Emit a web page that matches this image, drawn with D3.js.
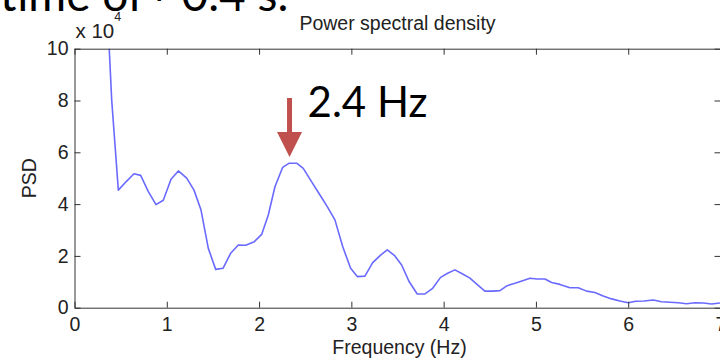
<!DOCTYPE html>
<html>
<head>
<meta charset="utf-8">
<script src="https://cdn.jsdelivr.net/npm/d3@7"></script>
<style>
  body { margin: 0; background: #fff; }
  svg { display: block; }
  .axis text { font-family: "Liberation Sans", Arial, sans-serif; font-size: 19.5px; fill: #222; }
  .axis path, .axis line { stroke: #333; }
</style>
</head>
<body>
<script>
// frequency (Hz) and PSD (x 10^4)
const freq = [0.32, 0.403, 0.475, 0.558, 0.645, 0.717, 0.80, 0.883, 0.962, 1.046, 1.125, 1.216, 1.295,
  1.371, 1.45, 1.53, 1.609, 1.692, 1.775, 1.855, 1.948, 2.028, 2.10, 2.172, 2.256, 2.327, 2.407,
  2.479, 2.57, 2.66, 2.739, 2.822, 2.906, 2.992, 3.064, 3.147, 3.231, 3.317, 3.389, 3.472, 3.545,
  3.627, 3.714, 3.797, 3.881, 3.967, 4.043, 4.122, 4.206, 4.285, 4.368, 4.447, 4.531, 4.61, 4.689,
  4.773, 4.856, 4.935, 5.014, 5.098, 5.17, 5.26, 5.368, 5.458, 5.549, 5.639, 5.729, 5.82, 5.91,
  6.0, 6.083, 6.173, 6.271, 6.362, 6.452, 6.542, 6.633, 6.723, 6.813, 6.904, 6.994];
const psd = [14.2, 8.02, 4.54, 4.86, 5.17, 5.11, 4.48, 3.98, 4.15, 4.96, 5.28, 5.00, 4.54,
  3.77, 2.29, 1.48, 1.52, 2.10, 2.42, 2.41, 2.55, 2.83, 3.58, 4.67, 5.42, 5.58, 5.58,
  5.38, 4.86, 4.35, 3.90, 3.39, 2.36, 1.52, 1.20, 1.22, 1.74, 2.03, 2.23, 2.00, 1.65,
  1.00, 0.53, 0.53, 0.75, 1.17, 1.33, 1.46, 1.30, 1.14, 0.88, 0.64, 0.64, 0.66, 0.85,
  0.94, 1.04, 1.14, 1.11, 1.11, 0.97, 0.90, 0.77, 0.77, 0.64, 0.59, 0.45, 0.34, 0.26,
  0.19, 0.25, 0.26, 0.30, 0.23, 0.21, 0.19, 0.15, 0.19, 0.18, 0.14, 0.18];
const xTicks = [0, 1, 2, 3, 4, 5, 6, 7];
const yTicks = [0, 2, 4, 6, 8, 10];
const peakFreq = 2.33;
const peakLabel = "2.4 Hz";

const width = 720, height = 361;
const margin = { top: 48.7, right: -0.5, bottom: 53.3, left: 74.5 };
const w = width - margin.left - margin.right;
const h = height - margin.top - margin.bottom;

const x = d3.scaleLinear().domain([0, 7]).range([0, w]);
const y = d3.scaleLinear().domain([0, 10]).range([h, 0]);

const svg = d3.select(document.body).append('svg')
  .attr('width', width)
  .attr('height', height);

// slide text cut off at the top
svg.append('text')
  .attr('x', 0).attr('y', 11)
  .attr('font-family', 'Lato, sans-serif')
  .attr('font-size', 46)
  .attr('fill', '#000')
  .text('time of ~0.4 s.');

const g = svg.append('g')
  .attr('transform', `translate(${margin.left}, ${margin.top})`);

g.append('clipPath').attr('id', 'plot')
  .append('rect').attr('width', w).attr('height', h);

const line = d3.line()
  .x((d, i) => x(freq[i]))
  .y(d => y(d));

g.append('path')
  .datum(psd)
  .attr('clip-path', 'url(#plot)')
  .attr('fill', 'none')
  .attr('stroke', '#6a6aff')
  .attr('stroke-width', 1.6)
  .attr('stroke-linejoin', 'round')
  .attr('d', line);

g.append('g')
  .attr('class', 'axis')
  .attr('transform', `translate(0, ${h})`)
  .call(d3.axisBottom(x).tickValues(xTicks).tickSize(-6).tickSizeOuter(0).tickPadding(9).tickFormat(d3.format('d')));

g.append('g')
  .attr('class', 'axis')
  .call(d3.axisTop(x).tickValues(xTicks).tickSize(-6).tickSizeOuter(0).tickFormat(''));

g.append('g')
  .attr('class', 'axis')
  .call(d3.axisLeft(y).tickValues(yTicks).tickSize(-6).tickSizeOuter(0).tickPadding(6).tickFormat(d3.format('d')));

g.append('g')
  .attr('class', 'axis')
  .attr('transform', `translate(${w}, 0)`)
  .call(d3.axisRight(y).tickValues(yTicks).tickSize(-6).tickSizeOuter(0).tickFormat(''));

g.selectAll('.axis path').attr('stroke-width', 1);

const font = '"Liberation Sans", Arial, sans-serif';

svg.append('text')
  .attr('x', margin.left + w / 2).attr('y', 30)
  .attr('text-anchor', 'middle')
  .attr('font-family', font).attr('font-size', 19.5).attr('fill', '#222')
  .text('Power spectral density');

svg.append('text')
  .attr('x', margin.left + w / 2 + 2).attr('y', 354)
  .attr('text-anchor', 'middle')
  .attr('font-family', font).attr('font-size', 19.5).attr('fill', '#222')
  .text('Frequency (Hz)');

svg.append('text')
  .attr('transform', `translate(36, ${margin.top + h / 2}) rotate(-90)`)
  .attr('text-anchor', 'middle')
  .attr('font-family', font).attr('font-size', 19.5).attr('fill', '#222')
  .text('PSD');

const exp = svg.append('text')
  .attr('x', margin.left + 1).attr('y', 38)
  .attr('font-family', font).attr('font-size', 20.5).attr('fill', '#222');
exp.append('tspan').text('x 10');
exp.append('tspan').attr('font-size', 12.5).attr('dy', -17).text('4');

// red arrow pointing at the peak
const ax = margin.left + x(peakFreq);
const tip = margin.top + y(5.82);
svg.append('path')
  .attr('fill', '#c0504d')
  .attr('d', `M${ax - 2.5},${tip - 59} L${ax + 2.5},${tip - 59} L${ax + 2.5},${tip - 25}
    L${ax + 12.5},${tip - 25} L${ax},${tip} L${ax - 12.5},${tip - 25} L${ax - 2.5},${tip - 25} Z`);

svg.append('text')
  .attr('x', ax + 18).attr('y', 117)
  .attr('font-family', 'Lato, sans-serif')
  .attr('font-size', 42)
  .attr('fill', '#000')
  .text(peakLabel);
</script>
</body>
</html>
